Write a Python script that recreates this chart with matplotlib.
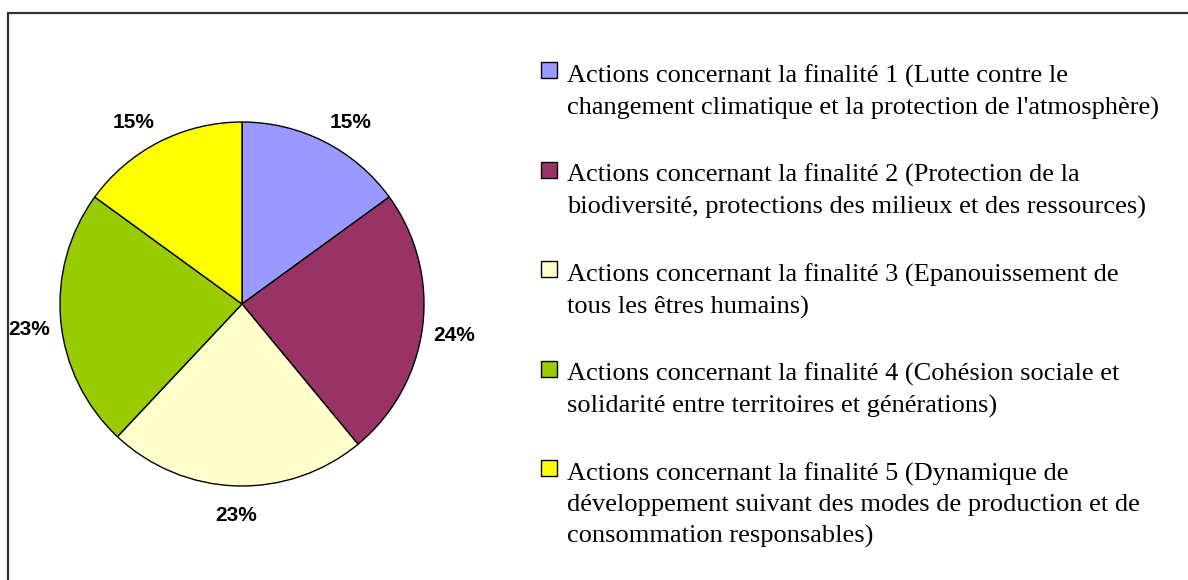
import numpy as np
import matplotlib
matplotlib.use("Agg")
import matplotlib.pyplot as plt
from matplotlib.patches import Rectangle

# parts of the actions per finalité (%)
shares = [15, 24, 23, 23, 15]
pct_labels = ["15%", "24%", "23%", "23%", "15%"]
colors = ["#9999FF", "#993366", "#FFFFCC", "#99CC00", "#FFFF00"]
legend_labels = [
    "Actions concernant la finalité 1 (Lutte contre le\n"
    "changement climatique et la protection de l'atmosphère)",
    "Actions concernant la finalité 2 (Protection de la\n"
    "biodiversité, protections des milieux et des ressources)",
    "Actions concernant la finalité 3 (Epanouissement de\n"
    "tous les êtres humains)",
    "Actions concernant la finalité 4 (Cohésion sociale et\n"
    "solidarité entre territoires et générations)",
    "Actions concernant la finalité 5 (Dynamique de\n"
    "développement suivant des modes de production et de\n"
    "consommation responsables)",
]

W, H = 1188, 580
fig = plt.figure(figsize=(W / 100, H / 100), dpi=100)

# chart frame (top and left edges visible)
fig.add_artist(Rectangle((8 / W, -0.1), 2, (H - 13) / H + 0.1, fill=False,
                         ec="#333333", lw=1.6, transform=fig.transFigure))

# pie, centre at (242, 304) px, radius 182 px
cx, cy, r = 242, H - 304, 182
ax = fig.add_axes([(cx - r) / W, (cy - r) / H, 2 * r / W, 2 * r / H])
wedges, _ = ax.pie(shares, colors=colors, startangle=90, counterclock=False,
                   wedgeprops=dict(edgecolor="black", linewidth=1))
ax.set_xlim(-1, 1)
ax.set_ylim(-1, 1)
ax.set_aspect("equal")
ax.axis("off")

# percentage labels just outside each wedge
for w, lab in zip(wedges, pct_labels):
    ang = np.deg2rad((w.theta1 + w.theta2) / 2)
    ux, uy = np.cos(ang), np.sin(ang)
    ha = "left" if ux > 0.2 else ("right" if ux < -0.2 else "center")
    va = "bottom" if uy > 0.2 else ("top" if uy < -0.2 else "center")
    d = 1.06 if va != "top" else 1.11
    dy = -0.04 if va == "center" else 0
    ax.text(d * ux, d * uy + dy, lab, ha=ha, va=va, fontsize=15,
            fontweight="bold", family="Liberation Sans")

# legend
y0 = 62
for i, (c, lab) in enumerate(zip(colors, legend_labels)):
    y = y0 + i * 99.5
    fig.add_artist(Rectangle((541 / W, 1 - (y + 16) / H), 16 / W, 16 / H,
                             fc=c, ec="black", lw=1, transform=fig.transFigure))
    fig.text(567 / W, 1 - (y + 2.5) / H, lab, ha="left", va="top",
             fontsize=19, family="Liberation Serif", linespacing=1.49)

fig.savefig("out.png", dpi=100)
